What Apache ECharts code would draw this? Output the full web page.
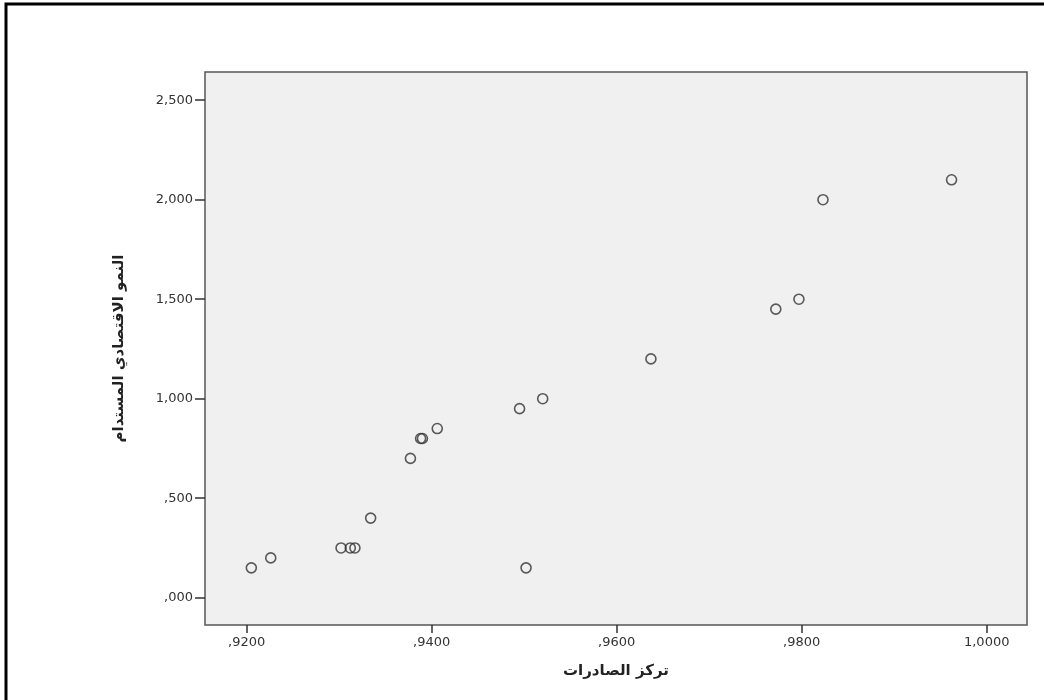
<!DOCTYPE html>
<html>
<head>
<meta charset="utf-8">
<script src="https://cdn.jsdelivr.net/npm/echarts@6/dist/echarts.min.js"></script>
<style>
html,body{margin:0;padding:0;background:#fff;}
#chart{width:1044px;height:700px;}
</style>
</head>
<body>
<div id="chart"></div>
<script>
// Data
const exportConcentration = [0.9205, 0.9226, 0.9302, 0.9312, 0.9317, 0.9334, 0.9377, 0.9388, 0.9390, 0.9406, 0.9495, 0.9520, 0.9502, 0.9637, 0.9772, 0.9797, 0.9823, 0.9962];
const sustainableGrowth  = [0.15,   0.20,   0.25,   0.25,   0.25,   0.40,   0.70,   0.80,   0.80,   0.85,   0.95,   1.00,   0.15,   1.20,   1.45,   1.50,   2.00,   2.10];

const xTickValues = [0.92, 0.94, 0.96, 0.98, 1.00];
const xTickLabels = [',9200', ',9400', ',9600', ',9800', '1,0000'];
const yTickValues = [0, 0.5, 1.0, 1.5, 2.0, 2.5];
const yTickLabels = [',000', ',500', '1,000', '1,500', '2,000', '2,500'];

const xAxisName = 'تركز الصادرات';
const yAxisName = 'النمو الاقتصادي المستدام';

const points = exportConcentration.map((x, i) => [x, sustainableGrowth[i]]);

function labelFor(values, labels, v) {
  for (let i = 0; i < values.length; i++) {
    if (Math.abs(values[i] - v) < 1e-9) return labels[i];
  }
  return '';
}

const chart = echarts.init(document.getElementById('chart'), null, {renderer: 'canvas'});
chart.setOption({
  animation: false,
  backgroundColor: '#ffffff',
  graphic: [{
    type: 'rect',
    shape: {x: 6, y: 4, width: 1200, height: 900},
    style: {fill: 'none', stroke: '#000000', lineWidth: 3},
    silent: true,
    z: 100
  }],
  grid: {
    left: 205, right: 17, top: 72, bottom: 75,
    show: true,
    backgroundColor: '#f0f0f0',
    borderColor: '#555555',
    borderWidth: 1.5
  },
  xAxis: {
    type: 'value',
    min: 0.915492,
    max: 1.004357,
    name: xAxisName,
    nameLocation: 'middle',
    nameGap: 39,
    nameTextStyle: {fontFamily: 'DejaVu Sans', fontWeight: 'bold', fontSize: 15, color: '#222'},
    axisLine: {show: false, onZero: false},
    splitLine: {show: false},
    axisTick: {show: true, inside: false, length: 8, customValues: xTickValues, lineStyle: {color: '#333', width: 1.5}},
    axisLabel: {
      customValues: xTickValues,
      margin: 11,
      fontFamily: 'DejaVu Sans', fontSize: 13, color: '#333',
      formatter: v => labelFor(xTickValues, xTickLabels, v)
    }
  },
  yAxis: {
    type: 'value',
    min: -0.1372,
    max: 2.6417,
    name: yAxisName,
    nameLocation: 'middle',
    nameGap: 78,
    nameRotate: 90,
    nameTextStyle: {fontFamily: 'DejaVu Sans', fontWeight: 'bold', fontSize: 15, color: '#222'},
    axisLine: {show: false, onZero: false},
    splitLine: {show: false},
    axisTick: {show: true, inside: false, length: 10, customValues: yTickValues, lineStyle: {color: '#333', width: 1.5}},
    axisLabel: {
      customValues: yTickValues,
      margin: 12,
      fontFamily: 'DejaVu Sans', fontSize: 13, color: '#333',
      formatter: v => labelFor(yTickValues, yTickLabels, v)
    }
  },
  series: [{
    type: 'scatter',
    data: points,
    symbol: 'circle',
    symbolSize: 10,
    itemStyle: {color: 'rgba(0,0,0,0)', borderColor: '#333333', borderWidth: 1.6}
  }]
});
</script>
</body>
</html>
